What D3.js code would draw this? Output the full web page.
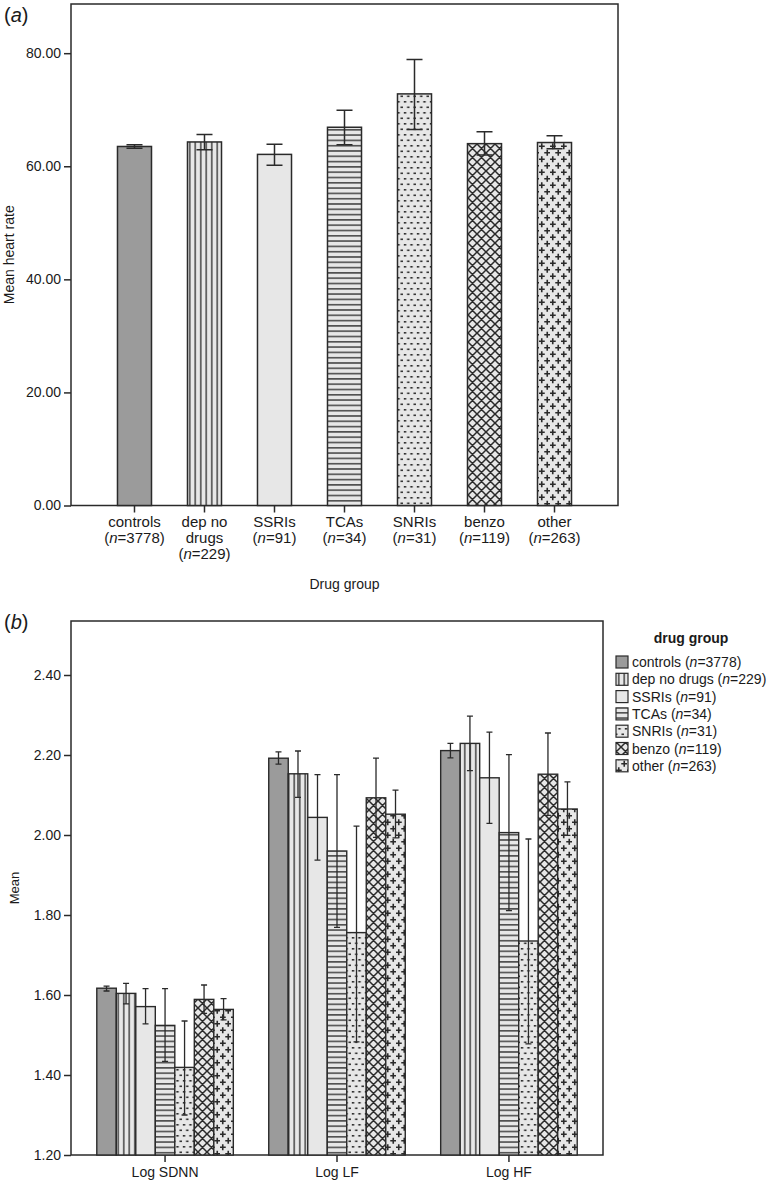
<!DOCTYPE html>
<html>
<head>
<meta charset="utf-8">
<script src="https://cdn.jsdelivr.net/npm/d3@7"></script>
<style>
  html, body { margin: 0; padding: 0; background: #fff; }
  svg { display: block; font-family: "Liberation Sans", Arial, sans-serif; }
</style>
</head>
<body>
<svg id="chart" width="768" height="1180"></svg>
<script>
// ---------- data ----------
const groupNames = ["controls", "dep no drugs", "SSRIs", "TCAs", "SNRIs", "benzo", "other"];
const groupN = [3778, 229, 91, 34, 31, 119, 263];
const groupLabelLines = [["controls"], ["dep no", "drugs"], ["SSRIs"], ["TCAs"], ["SNRIs"], ["benzo"], ["other"]];

// panel (a): mean heart rate with CI
const hrMean = [63.5, 64.3, 62.1, 66.9, 72.8, 64.0, 64.2];
const hrLow  = [63.2, 62.9, 60.2, 63.8, 66.5, 62.0, 63.1];
const hrHigh = [63.8, 65.6, 63.9, 69.9, 78.9, 66.1, 65.4];
const hrTicks = [0, 20, 40, 60, 80];

// panel (b): HRV measures
const measures = ["Log SDNN", "Log LF", "Log HF"];
const sdnnMean = [1.617, 1.604, 1.571, 1.524, 1.419, 1.589, 1.564];
const sdnnLow  = [1.610, 1.578, 1.528, 1.434, 1.300, 1.554, 1.538];
const sdnnHigh = [1.622, 1.629, 1.616, 1.616, 1.535, 1.625, 1.591];
const lfMean = [2.192, 2.153, 2.044, 1.960, 1.756, 2.093, 2.052];
const lfLow  = [2.177, 2.094, 1.937, 1.769, 1.483, 1.994, 1.993];
const lfHigh = [2.208, 2.210, 2.151, 2.151, 2.022, 2.192, 2.112];
const hfMean = [2.211, 2.229, 2.143, 2.006, 1.735, 2.152, 2.065];
const hfLow  = [2.193, 2.161, 2.029, 1.811, 1.478, 2.049, 1.999];
const hfHigh = [2.229, 2.297, 2.257, 2.201, 1.990, 2.255, 2.133];
const hrvTicks = [1.2, 1.4, 1.6, 1.8, 2.0, 2.2, 2.4];

// ---------- styles ----------
const INK = "#2a2a2a";
const LIGHT = "#e7e7e7";
const DARKFILL = "#9b9b9b";
const FONT = "Liberation Sans, Arial, sans-serif";
const patternIds = ["p-solid", "p-vert", "p-plain", "p-horiz", "p-dots", "p-cross", "p-plus"];

const svg = d3.select("#chart");
svg.append("rect").attr("width", 768).attr("height", 1180).attr("fill", "#fff");

// ---------- patterns ----------
const defs = svg.append("defs");
function pat(id, w, h) {
  const p = defs.append("pattern").attr("id", id).attr("patternUnits", "userSpaceOnUse")
    .attr("width", w).attr("height", h);
  p.append("rect").attr("width", w).attr("height", h).attr("fill", id === "p-solid" ? DARKFILL : LIGHT);
  return p;
}
pat("p-solid", 4, 4);
pat("p-plain", 4, 4);
{ const p = pat("p-vert", 5.5, 4);
  p.append("line").attr("x1", 2.75).attr("x2", 2.75).attr("y1", 0).attr("y2", 4).attr("stroke", INK).attr("stroke-width", 1.3); }
{ const p = pat("p-horiz", 4, 5.3);
  p.append("line").attr("x1", 0).attr("x2", 4).attr("y1", 2.6).attr("y2", 2.6).attr("stroke", INK).attr("stroke-width", 1.3); }
{ const p = pat("p-dots", 6.5, 11);
  p.append("rect").attr("x", 0.8).attr("y", 2).attr("width", 2.4).attr("height", 1.6).attr("fill", "#2e2e2e");
  p.append("rect").attr("x", 4.05).attr("y", 7.5).attr("width", 2.4).attr("height", 1.6).attr("fill", "#2e2e2e"); }
{ const p = pat("p-cross", 9, 9);
  p.append("path").attr("d", "M0,0L9,9M9,0L0,9M-1,8L1,10M8,-1L10,1").attr("stroke", INK).attr("stroke-width", 1.5); }
{ const p = pat("p-plus", 11, 13);
  p.append("path").attr("d", "M2.75,0.25V6.25M-0.25,3.25H5.75M8.25,6.75V12.75M5.25,9.75H11.25M11.25,3.25H13.75M-2.75,9.75H-0.25")
    .attr("stroke", INK).attr("stroke-width", 1.6); }

// ---------- panel (a) ----------
const aLeft = 71, aRight = 618, aTop = 4, aBottom = 505.5;
const yA = d3.scaleLinear().domain([0, 88.7]).range([aBottom, aTop]);
const xA = d3.scaleBand().domain(groupNames).range([aLeft, aRight]).paddingInner(0.514).paddingOuter(0.664);

const gA = svg.append("g");
gA.append("rect").attr("x", aLeft).attr("y", aTop).attr("width", aRight - aLeft).attr("height", aBottom - aTop)
  .attr("fill", "none").attr("stroke", INK).attr("stroke-width", 1.5);

gA.selectAll("rect.bar").data(groupNames).join("rect").attr("class", "bar")
  .attr("x", d => xA(d)).attr("width", xA.bandwidth())
  .attr("y", (d, i) => yA(hrMean[i])).attr("height", (d, i) => yA(0) - yA(hrMean[i]))
  .attr("fill", (d, i) => `url(#${patternIds[i]})`).attr("stroke", INK).attr("stroke-width", 1.5);

const capA = 8;
gA.selectAll("path.err").data(groupNames).join("path").attr("class", "err")
  .attr("d", (d, i) => {
    const cx = xA(d) + xA.bandwidth() / 2, lo = yA(hrLow[i]), hi = yA(hrHigh[i]);
    return `M${cx},${lo}V${hi}M${cx - capA},${hi}H${cx + capA}M${cx - capA},${lo}H${cx + capA}`;
  }).attr("stroke", INK).attr("stroke-width", 1.5).attr("fill", "none");

const yAxisA = gA.append("g").attr("transform", `translate(${aLeft},0)`)
  .call(d3.axisLeft(yA).tickValues(hrTicks).tickFormat(d3.format(".2f")).tickSize(7).tickPadding(3));
yAxisA.select(".domain").remove();
yAxisA.selectAll("line").attr("stroke", INK).attr("stroke-width", 1.5);
yAxisA.selectAll("text").attr("font-size", 14).attr("fill", "#1a1a1a").attr("font-family", FONT);

const xAxisA = gA.append("g").attr("transform", `translate(0,${aBottom})`)
  .call(d3.axisBottom(xA).tickSize(7).tickFormat(""));
xAxisA.select(".domain").remove();
xAxisA.selectAll("line").attr("stroke", INK).attr("stroke-width", 1.5);

const xlabA = gA.append("g");
groupNames.forEach((g, i) => {
  const cx = xA(g) + xA.bandwidth() / 2;
  const t = xlabA.append("text").attr("x", cx).attr("y", 527).attr("text-anchor", "middle")
    .attr("font-size", 15).attr("fill", "#1a1a1a");
  const lines = groupLabelLines[i];
  lines.forEach((ln, k) => {
    t.append("tspan").attr("x", cx).attr("dy", k === 0 ? 0 : 16).text(ln);
  });
  const last = t.append("tspan").attr("x", cx).attr("dy", 16);
  last.append("tspan").text("(");
  last.append("tspan").attr("font-style", "italic").text("n");
  last.append("tspan").text(`=${groupN[i]})`);
});

gA.append("text").attr("x", (aLeft + aRight) / 2).attr("y", 589).attr("text-anchor", "middle")
  .attr("font-size", 14).attr("fill", "#1a1a1a").text("Drug group");
gA.append("text").attr("transform", `translate(14,${(aTop + aBottom) / 2}) rotate(-90)`).attr("text-anchor", "middle")
  .attr("font-size", 14).attr("fill", "#1a1a1a").text("Mean heart rate");

function panelLetter(y, letter) {
  const t = svg.append("text").attr("x", 4).attr("y", y).attr("font-size", 20).attr("fill", "#1a1a1a");
  t.append("tspan").text("(");
  t.append("tspan").attr("font-style", "italic").text(letter);
  t.append("tspan").text(")");
}
panelLetter(22, "a");
panelLetter(629, "b");

// ---------- panel (b) ----------
const bLeft = 71, bRight = 603, bTop = 621, bBottom = 1155;
const yB = d3.scaleLinear().domain([1.2, 2.535]).range([bBottom, bTop]);
const x0 = d3.scaleBand().domain(measures).range([bLeft, bRight]).paddingInner(0.206).paddingOuter(0.15);
const x1 = d3.scaleBand().domain(groupNames).range([0, x0.bandwidth()]).padding(0);

const seriesMean = [sdnnMean, lfMean, hfMean];
const seriesLow = [sdnnLow, lfLow, hfLow];
const seriesHigh = [sdnnHigh, lfHigh, hfHigh];

const gB = svg.append("g");
gB.append("rect").attr("x", bLeft).attr("y", bTop).attr("width", bRight - bLeft).attr("height", bBottom - bTop)
  .attr("fill", "none").attr("stroke", INK).attr("stroke-width", 1.5);

const cells = [];
measures.forEach((m, mi) => groupNames.forEach((g, gi) => {
  cells.push({ m, g, gi, mean: seriesMean[mi][gi], lo: seriesLow[mi][gi], hi: seriesHigh[mi][gi] });
}));

gB.selectAll("rect.bar").data(cells).join("rect").attr("class", "bar")
  .attr("x", d => x0(d.m) + x1(d.g)).attr("width", x1.bandwidth())
  .attr("y", d => yB(d.mean)).attr("height", d => yB(1.2) - yB(d.mean))
  .attr("fill", d => `url(#${patternIds[d.gi]})`).attr("stroke", INK).attr("stroke-width", 1.4);

const capB = 3;
gB.selectAll("path.err").data(cells).join("path").attr("class", "err")
  .attr("d", d => {
    const cx = x0(d.m) + x1(d.g) + x1.bandwidth() / 2, lo = yB(d.lo), hi = yB(d.hi);
    return `M${cx},${lo}V${hi}M${cx - capB},${hi}H${cx + capB}M${cx - capB},${lo}H${cx + capB}`;
  }).attr("stroke", INK).attr("stroke-width", 1.3).attr("fill", "none");

const yAxisB = gB.append("g").attr("transform", `translate(${bLeft},0)`)
  .call(d3.axisLeft(yB).tickValues(hrvTicks).tickFormat(d3.format(".2f")).tickSize(7).tickPadding(3));
yAxisB.select(".domain").remove();
yAxisB.selectAll("line").attr("stroke", INK).attr("stroke-width", 1.5);
yAxisB.selectAll("text").attr("font-size", 14).attr("fill", "#1a1a1a").attr("font-family", FONT);

const xAxisB = gB.append("g").attr("transform", `translate(0,${bBottom})`)
  .call(d3.axisBottom(x0).tickSize(7).tickPadding(5));
xAxisB.select(".domain").remove();
xAxisB.selectAll("line").attr("stroke", INK).attr("stroke-width", 1.5);
xAxisB.selectAll("text").attr("font-size", 14).attr("fill", "#1a1a1a").attr("font-family", FONT);

gB.append("text").attr("transform", `translate(19,${(bTop + bBottom) / 2}) rotate(-90)`).attr("text-anchor", "middle")
  .attr("font-size", 13).attr("fill", "#1a1a1a").text("Mean");

// legend
const lg = svg.append("g");
lg.append("text").attr("x", 691).attr("y", 643).attr("text-anchor", "middle").attr("font-size", 14)
  .attr("font-weight", "bold").attr("fill", "#1a1a1a").text("drug group");
groupNames.forEach((g, i) => {
  const cy = 662 + i * 17.3;
  lg.append("rect").attr("x", 616).attr("y", cy - 6).attr("width", 12).attr("height", 12)
    .attr("fill", `url(#${patternIds[i]})`).attr("stroke", INK).attr("stroke-width", 1.2);
  const t = lg.append("text").attr("x", 632).attr("y", cy + 5).attr("font-size", 14).attr("fill", "#1a1a1a");
  t.append("tspan").text(`${g} (`);
  t.append("tspan").attr("font-style", "italic").text("n");
  t.append("tspan").text(`=${groupN[i]})`);
});
</script>
</body>
</html>
